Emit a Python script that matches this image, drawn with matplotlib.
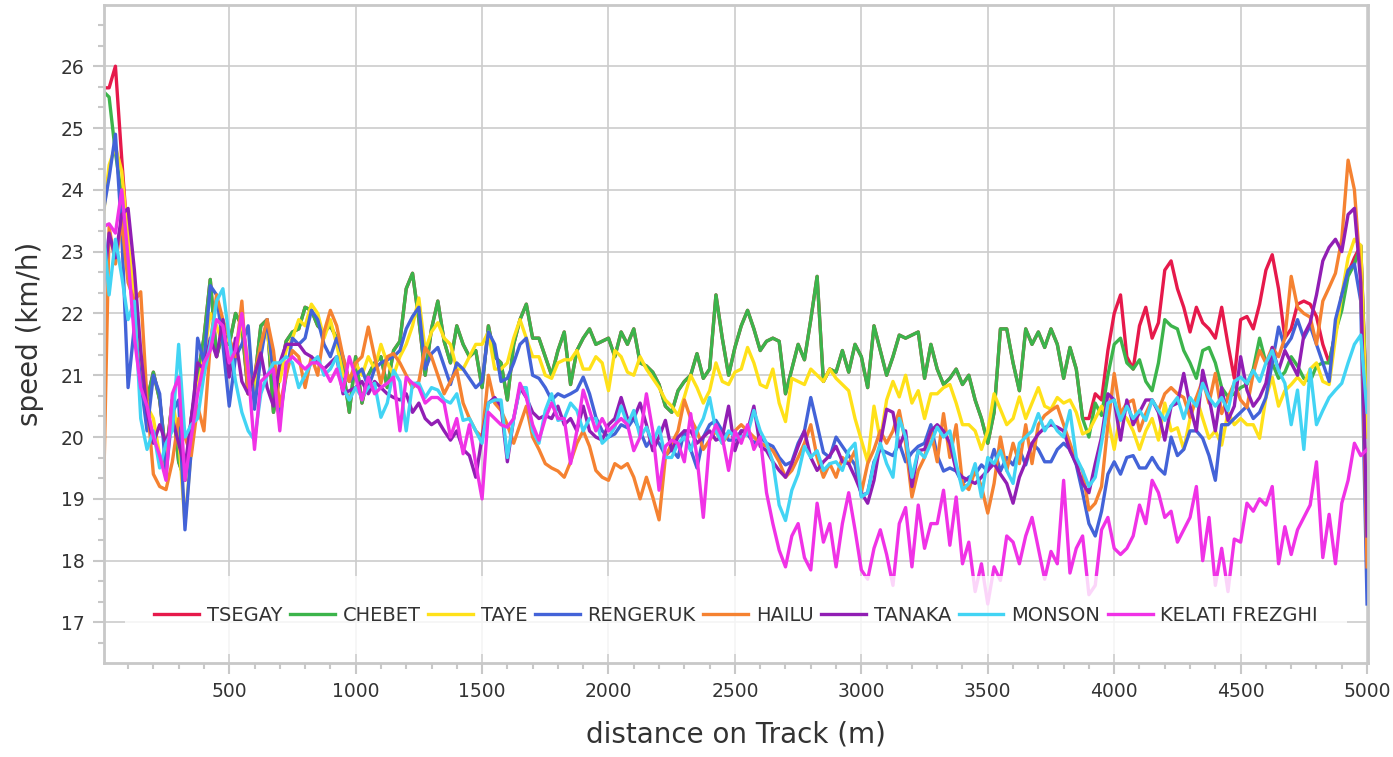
import numpy as np
import matplotlib
matplotlib.use("Agg")
import matplotlib.pyplot as plt
from matplotlib.ticker import MultipleLocator

# distance on track, one reading every 25 m
distance = list(range(0, 5001, 25))

# speeds in km/h (10 values = 250 m per row)
chebet = [
    25.6, 25.5, 24.6, 23.9, 22.9, 21.8, 21.2, 20.6, 21.05, 20.6,
    19.7, 20.6, 19.6, 19.3, 20.3, 21.0, 21.6, 22.55, 21.3, 21.7,
    21.5, 22.0, 21.8, 20.7, 20.9, 21.8, 21.9, 20.4, 21.0, 21.55,
    21.7, 21.75, 22.1, 22.05, 21.8, 21.7, 21.8, 21.6, 21.1, 20.4,
    21.3, 20.55, 21.0, 21.2, 21.3, 20.8, 21.4, 21.55, 22.4, 22.65,
    21.9, 21.0, 21.75, 22.2, 21.55, 21.2, 21.8, 21.5, 21.3, 21.4,
    20.8, 21.8, 21.3, 21.2, 20.6, 21.5, 21.9, 22.15, 21.6, 21.6,
    21.3, 21.0, 21.4, 21.7, 20.85, 21.4, 21.6, 21.75, 21.5, 21.55,
    21.6, 21.3, 21.7, 21.5, 21.75, 21.2, 21.15, 21.05, 20.85, 20.5,
    20.4, 20.75, 20.9, 21.0, 21.35, 20.95, 21.1, 22.3, 21.6, 21.0,
    21.45, 21.8, 22.05, 21.75, 21.4, 21.55, 21.6, 21.55, 20.7, 21.1,
    21.5, 21.25, 21.9, 22.6, 20.9, 21.1, 21.05, 21.4, 21.05, 21.5,
    21.3, 20.8, 21.8, 21.4, 21.0, 21.3, 21.65, 21.6, 21.65, 21.7,
    20.95, 21.5, 21.1, 20.85, 20.95, 21.1, 20.85, 21.0, 20.6, 20.3,
    19.9, 20.4, 21.75, 21.75, 21.2, 20.75, 21.75, 21.5, 21.7, 21.45,
    21.75, 21.5, 20.95, 21.45, 21.1, 20.3, 20.0, 20.55, 20.35, 21.0,
    21.5, 21.6, 21.2, 21.1, 21.25, 20.9, 20.75, 21.2, 21.9, 21.8,
    21.75, 21.4, 21.2, 20.95, 21.4, 21.45, 21.2, 20.8, 20.65, 20.7,
    20.8, 20.85, 21.1, 21.6, 21.2, 21.2, 20.95, 21.05, 21.3, 21.15,
    20.95, 20.9, 21.15, 21.2, 21.2, 21.7, 22.05, 22.6, 22.8, 23.1,
    20.2,
]

# TSEGAY runs right under CHEBET from 125 m to 3875 m
tsegay = [25.65, 25.65, 26.0, 24.5, 23.1] + chebet[5:156] + [
    20.3, 20.7, 20.6, 21.4,
    22.0, 22.3, 21.3, 21.1, 21.8, 22.1, 21.6, 21.85, 22.7, 22.85,
    22.4, 22.1, 21.7, 22.1, 21.85, 21.75, 21.6, 22.1, 21.5, 20.95,
    21.9, 21.95, 21.75, 22.15, 22.7, 22.95, 22.4, 21.6, 21.75, 22.15,
    22.2, 22.15, 21.95, 21.5, 21.2, 21.7, 22.3, 22.65, 22.9, 23.1,
    20.3,
]

taye = [
    23.5, 24.4, 24.7, 24.3, 23.2, 22.2, 21.3, 20.5, 20.3, 19.7,
    19.5, 20.6, 20.0, 18.6, 19.8, 20.8, 21.3, 22.0, 21.8, 21.5,
    21.6, 21.3, 21.9, 21.2, 20.7, 21.5, 21.7, 21.0, 20.9, 21.4,
    21.6, 21.9, 21.8, 22.15, 22.0, 21.6, 21.9, 21.5, 21.0, 20.9,
    21.2, 21.0, 21.3, 21.1, 21.5, 21.2, 21.0, 21.3, 21.5, 21.8,
    22.25, 21.4, 21.7, 21.85, 21.6, 21.5, 21.1, 21.1, 21.3, 21.5,
    21.5, 21.7, 21.1, 21.1, 21.2, 21.6, 21.9, 21.6, 21.3, 21.3,
    21.0, 20.95, 21.2, 21.25, 21.25, 21.4, 21.1, 21.1, 21.3, 21.2,
    20.75, 21.4, 21.3, 21.05, 21.0, 21.3, 21.1, 20.95, 20.8, 20.6,
    20.5, 20.35, 20.65, 21.0, 20.8, 20.55, 20.75, 21.2, 20.9, 20.85,
    21.05, 21.1, 21.45, 21.2, 20.85, 20.8, 21.1, 20.55, 20.25, 20.95,
    20.9, 20.85, 21.1, 21.0, 20.9, 21.1, 20.95, 20.85, 20.75, 20.3,
    19.95, 19.6, 20.5, 19.95, 20.6, 20.9, 20.65, 21.0, 20.55, 20.75,
    20.3, 20.7, 20.7, 20.8, 20.85, 20.55, 20.2, 20.2, 20.1, 19.8,
    20.1, 20.7, 20.45, 20.2, 20.3, 20.65, 20.3, 20.55, 20.8, 20.5,
    20.45, 20.64, 20.55, 20.6, 20.4, 20.05, 20.1, 20.3, 20.5, 20.3,
    19.8, 20.4, 20.3, 20.1, 19.8, 20.1, 20.3, 19.95, 20.55, 20.1,
    20.15, 19.8, 20.3, 20.64, 20.3, 19.98, 20.1, 19.87, 20.4, 20.2,
    20.3, 20.2, 20.2, 19.98, 20.64, 20.97, 20.5, 20.75, 20.85, 20.97,
    20.85, 21.1, 21.2, 20.9, 20.85, 21.6, 22.3, 22.9, 23.2, 23.1,
    20.0,
]

rengeruk = [
    23.6, 24.2, 24.9, 23.3, 20.8, 21.8, 20.9, 20.1, 21.0, 20.7,
    19.4, 20.4, 20.6, 18.5, 19.8, 21.6, 21.2, 22.45, 22.3, 21.5,
    20.5, 21.3, 21.5, 21.8, 20.45, 21.3, 21.9, 21.0, 20.3, 21.0,
    21.6, 21.5, 21.6, 22.05, 21.9, 21.5, 21.3, 21.6, 21.3, 20.9,
    21.0, 21.1, 20.8, 21.1, 21.2, 21.25, 21.3, 21.4, 21.75, 21.95,
    22.1, 21.1, 21.35, 21.45, 21.15, 20.85, 21.2, 21.1, 20.95, 20.8,
    20.9, 21.7, 21.5, 20.9, 20.95, 21.2, 21.5, 21.6, 21.0, 20.95,
    20.8, 20.6, 20.7, 20.65, 20.7, 20.76, 20.97, 20.7, 20.32, 20.1,
    20.0, 20.05, 20.2, 20.15, 20.3, 20.1, 19.85, 20.0, 19.9, 19.7,
    19.8, 19.67, 20.1, 19.8, 19.5, 20.0, 20.2, 20.27, 20.1, 19.95,
    19.95, 20.1, 20.05, 19.9, 20.0, 19.9, 19.85, 19.67, 19.55, 19.6,
    19.9, 20.1, 20.64, 20.2, 19.75, 19.67, 20.0, 19.85, 19.7, 19.55,
    19.05, 19.1, 19.6, 19.8, 19.75, 19.7, 19.9, 19.6, 19.75, 19.85,
    19.9, 20.2, 19.7, 19.45, 19.5, 19.45, 19.25, 19.35, 19.4, 19.55,
    19.45, 19.8, 19.45, 19.67, 19.55, 19.8, 19.55, 19.9, 19.8, 19.6,
    19.6, 19.8, 19.9, 19.8, 19.55, 19.1, 18.6, 18.4, 18.8, 19.4,
    19.6, 19.4, 19.67, 19.7, 19.5, 19.5, 19.67, 19.5, 19.4, 20.0,
    19.7, 19.8, 20.1, 20.1, 19.98, 19.7, 19.3, 20.2, 20.2, 20.3,
    20.4, 20.5, 20.3, 20.4, 20.64, 21.2, 21.78, 21.45, 21.6, 21.9,
    21.6, 21.8, 21.5, 21.2, 20.9, 21.9, 22.3, 22.7, 22.8, 22.2,
    17.3,
]

hailu = [
    18.5, 23.4, 22.8, 23.5, 22.5, 22.2, 22.35, 20.6, 19.4, 19.2,
    19.15, 19.6, 20.3, 20.0, 19.7, 20.5, 20.1, 21.5, 22.3, 21.9,
    21.6, 21.3, 22.2, 20.7, 21.0, 21.5, 21.9, 21.4, 20.5, 21.0,
    21.4, 21.3, 20.8, 21.3, 21.0, 21.7, 22.05, 21.8, 21.3, 20.9,
    21.2, 21.3, 21.78, 21.3, 20.87, 21.3, 21.35, 21.2, 21.0, 20.8,
    20.9, 21.45, 21.3, 21.0, 20.7, 20.9, 21.08, 20.55, 20.3, 20.1,
    20.0, 21.0, 20.55, 20.43, 20.2, 19.9, 20.2, 20.5, 20.0, 19.8,
    19.57, 19.5, 19.45, 19.35, 19.6, 19.9, 20.1, 19.85, 19.46, 19.35,
    19.3, 19.57, 19.5, 19.57, 19.35, 19.0, 19.35, 19.03, 18.66, 19.67,
    19.9, 20.1, 20.6, 20.3, 20.1, 19.8, 19.95, 20.1, 19.9, 20.05,
    20.1, 20.2, 20.1, 20.0, 19.9, 19.85, 19.78, 19.6, 19.35, 19.46,
    19.67, 19.9, 20.2, 19.67, 19.35, 19.57, 19.35, 19.67, 19.57, 19.78,
    19.1, 19.57, 19.8, 20.1, 19.9, 20.1, 20.43, 19.9, 19.03, 19.46,
    19.67, 20.1, 19.6, 20.38, 19.67, 20.2, 19.25, 19.15, 19.46, 19.2,
    18.77, 19.25, 20.0, 19.46, 19.9, 19.57, 20.2, 19.57, 20.2, 20.35,
    20.43, 20.5, 20.2, 19.9, 19.6, 19.46, 18.82, 18.93, 19.2, 20.2,
    21.03, 20.38, 20.55, 20.6, 20.1, 20.38, 20.6, 20.43, 20.7, 20.8,
    20.7, 20.64, 20.32, 20.64, 20.92, 20.55, 21.03, 20.38, 20.64, 20.87,
    20.6, 20.48, 21.03, 21.4, 21.2, 21.45, 21.3, 21.6, 22.6, 22.1,
    22.0, 21.94, 21.5, 22.2, 22.42, 22.65, 23.2, 24.48, 24.0, 22.6,
    17.9,
]

tanaka = [
    22.3, 23.3, 22.9, 23.6, 23.7, 22.7, 21.4, 20.4, 19.9, 20.2,
    19.9, 20.3, 19.9, 19.5, 20.3, 21.2, 21.1, 21.6, 21.3, 21.9,
    20.97, 21.6, 20.9, 20.7, 21.0, 21.36, 20.8, 20.5, 21.2, 21.5,
    21.5, 21.5, 21.36, 21.3, 21.2, 21.1, 21.2, 21.3, 20.7, 20.75,
    20.8, 20.9, 20.7, 20.9, 20.8, 20.7, 20.64, 20.6, 20.7, 20.4,
    20.55, 20.3, 20.2, 20.27, 20.1, 19.95, 20.1, 19.8, 19.7, 19.35,
    20.0, 20.55, 20.64, 20.5, 19.6, 20.3, 20.8, 20.64, 20.4, 20.3,
    20.35, 20.3, 20.5, 20.2, 20.3, 20.1, 20.5, 20.1, 20.0, 19.95,
    20.2, 20.3, 20.64, 20.3, 20.3, 20.55, 20.2, 19.78, 20.0, 20.27,
    19.78, 20.0, 20.1, 20.1, 19.9, 20.0, 20.1, 19.95, 20.0, 20.5,
    19.78, 20.1, 20.1, 20.5, 19.85, 19.78, 19.6, 19.46, 19.35, 19.57,
    19.85, 20.1, 19.67, 19.46, 19.6, 19.7, 19.85, 19.6, 19.57, 19.35,
    19.1, 18.93, 19.3, 19.9, 20.45, 20.4, 19.85, 20.1, 19.2, 19.78,
    19.8, 20.1, 20.2, 20.1, 19.9, 19.46, 19.35, 19.3, 19.25, 19.35,
    19.46, 19.57, 19.4, 19.25, 18.93, 19.35, 19.6, 19.9, 20.05, 20.15,
    20.2, 20.16, 20.1, 19.78, 19.57, 19.25, 19.1, 19.57, 20.0, 20.7,
    20.6, 19.95, 20.6, 20.2, 20.4, 20.6, 20.6, 20.4, 19.95, 20.5,
    20.55, 21.03, 20.5, 20.1, 21.08, 20.64, 20.1, 20.8, 20.27, 20.5,
    21.3, 20.76, 20.5, 20.64, 20.87, 21.45, 21.08, 21.4, 21.2, 21.0,
    21.65, 21.85, 22.3, 22.85, 23.07, 23.2, 23.0, 23.6, 23.7, 22.5,
    18.4,
]

monson = [
    23.5, 22.3, 23.2, 22.6, 21.9, 22.2, 20.3, 19.8, 20.1, 19.5,
    19.9, 20.1, 21.5, 20.0, 20.2, 20.3, 21.0, 21.5, 22.2, 22.4,
    21.6, 20.9, 20.4, 20.1, 19.95, 20.7, 21.0, 21.2, 21.2, 21.3,
    21.2, 20.8, 21.0, 21.2, 21.3, 21.0, 21.1, 21.3, 20.8, 20.6,
    20.8, 20.64, 20.8, 20.87, 20.32, 20.55, 21.08, 20.9, 20.1, 20.87,
    20.87, 20.64, 20.8, 20.76, 20.6, 20.55, 20.7, 20.27, 20.3, 20.1,
    19.9, 20.55, 20.6, 20.6, 19.67, 20.3, 20.8, 20.8, 20.1, 19.9,
    20.43, 20.7, 20.27, 20.3, 20.55, 20.43, 20.1, 20.3, 20.3, 19.9,
    20.0, 20.16, 20.5, 20.2, 20.43, 20.0, 20.16, 19.9, 20.16, 19.67,
    19.67, 19.9, 20.0, 19.78, 20.1, 20.3, 20.64, 20.1, 19.9, 20.1,
    20.0, 20.0, 20.05, 20.43, 20.1, 19.9, 19.6, 18.9, 18.65, 19.14,
    19.4, 19.85, 19.67, 19.78, 19.46, 19.57, 19.6, 19.46, 19.78, 19.9,
    19.03, 19.1, 19.57, 19.9, 19.57, 19.35, 20.3, 20.0, 19.35, 19.78,
    19.67, 19.9, 20.16, 20.0, 20.1, 19.57, 19.14, 19.25, 19.57, 19.03,
    19.67, 19.57, 19.78, 19.46, 19.25, 19.9, 20.0, 20.1, 20.38, 20.1,
    20.27, 20.1, 20.0, 20.43, 19.67, 19.46, 19.2, 19.35, 19.9, 20.55,
    20.6, 20.27, 20.5, 20.3, 20.43, 20.27, 20.6, 20.43, 20.27, 20.5,
    20.64, 20.3, 20.64, 20.5, 20.87, 20.64, 20.5, 20.64, 20.43, 20.9,
    20.97, 20.87, 21.08, 20.9, 21.2, 21.4, 21.08, 20.87, 20.2, 20.76,
    19.8, 21.1, 20.2, 20.43, 20.64, 20.76, 20.87, 21.2, 21.5, 21.65,
    20.4,
]

kelati = [
    23.4, 23.45, 23.3, 24.0, 22.9, 21.6, 20.8, 20.5, 20.0, 19.7,
    19.3, 20.7, 20.97, 19.3, 20.0, 20.7, 21.2, 21.4, 21.9, 21.8,
    21.2, 21.4, 22.0, 21.1, 19.8, 20.9, 21.0, 21.1, 20.1, 21.2,
    21.3, 21.2, 21.1, 21.2, 21.2, 21.1, 20.9, 21.1, 20.75, 21.3,
    20.97, 20.6, 20.97, 20.7, 20.8, 20.87, 20.97, 20.1, 20.97, 20.87,
    20.8, 20.55, 20.64, 20.64, 20.55, 20.0, 20.3, 19.73, 20.2, 19.57,
    19.0, 20.4, 20.3, 20.2, 20.16, 20.3, 20.87, 20.64, 20.2, 19.95,
    20.3, 20.55, 20.3, 20.3, 19.57, 20.1, 20.76, 20.43, 20.1, 20.3,
    20.1, 20.2, 20.3, 20.2, 19.78, 20.0, 20.7, 20.1, 19.14, 19.85,
    19.95, 19.9, 19.6, 20.38, 19.67, 18.7, 19.95, 20.2, 20.0, 19.46,
    20.1, 19.9, 20.2, 19.8, 20.0, 19.1, 18.6, 18.17, 17.9, 18.4,
    18.6, 18.05, 17.85, 18.93, 18.3, 18.6, 17.9, 18.6, 19.1, 18.5,
    17.85, 17.7, 18.2, 18.5, 18.1, 17.6, 18.6, 18.86, 17.9, 18.9,
    18.2, 18.6, 18.6, 19.14, 18.25, 19.03, 17.95, 18.3, 17.5, 17.95,
    17.3, 17.9, 17.68, 18.4, 18.3, 17.95, 18.4, 18.7, 18.2, 17.7,
    18.15, 17.95, 19.3, 17.8, 18.2, 18.4, 17.45, 17.6, 18.5, 18.7,
    18.2, 18.1, 18.2, 18.4, 18.9, 18.6, 19.3, 19.1, 18.7, 18.8,
    18.3, 18.5, 18.7, 19.2, 18.0, 18.7, 17.6, 18.2, 17.5, 18.35,
    18.3, 18.93, 18.8, 19.0, 18.9, 19.2, 17.95, 18.55, 18.1, 18.5,
    18.7, 18.9, 19.6, 18.05, 18.75, 17.95, 18.93, 19.3, 19.9, 19.7,
    19.8,
]

runners = ['TSEGAY', 'CHEBET', 'TAYE', 'RENGERUK', 'HAILU', 'TANAKA', 'MONSON', 'KELATI FREZGHI']
speeds = [tsegay, chebet, taye, rengeruk, hailu, tanaka, monson, kelati]
colors = ['#e6194b', '#3cb44b', '#ffe119', '#4363d8', '#f58231', '#911eb4', '#42d4f4', '#f032e6']

plt.rcParams['font.family'] = 'DejaVu Sans'
grey = '#c8c8c8'

fig = plt.figure(figsize=(13.93, 7.57), dpi=100)
ax = fig.add_axes([0.0747, 0.1246, 0.9074, 0.8688])

# one line per runner, first runner at the bottom
for name, v, c in zip(runners, speeds, colors):
    ax.plot(distance, v, color=c, lw=2.4, label=name)

ax.set_xlim(5, 5004)
ax.set_ylim(16.35, 26.99)

ax.xaxis.set_major_locator(MultipleLocator(500))
ax.xaxis.set_minor_locator(MultipleLocator(100))
ax.yaxis.set_major_locator(MultipleLocator(1))
ax.yaxis.set_minor_locator(MultipleLocator(1 / 3))

ax.grid(True, which='major', color='#cccccc', lw=1.2)
ax.set_axisbelow(True)
for s in ax.spines.values():
    s.set_color(grey)
    s.set_linewidth(2)

ax.tick_params(which='major', length=8, width=1.5, color=grey, labelsize=13.5,
               labelcolor='#333333', pad=6)
ax.tick_params(which='minor', length=4, width=1.5, color=grey)

ax.set_xlabel('distance on Track (m)', fontsize=20, color='#333333', labelpad=14)
ax.set_ylabel('speed (km/h)', fontsize=20, color='#333333', labelpad=12)

# legend sits inside the plot on a half see-through white band
leg = ax.legend(loc='lower left', bbox_to_anchor=(0.0166, 0.0137, 0.9668, 0.12),
                mode='expand', ncol=8, fontsize=14, frameon=True, fancybox=False,
                framealpha=0.8, facecolor='white', edgecolor='none',
                borderpad=1.5, handlelength=2.3, handletextpad=0.4, borderaxespad=0)
for line in leg.get_lines():
    line.set_linewidth(2.4)
for t in leg.get_texts():
    t.set_color('#333333')

fig.savefig('out.png', dpi=100)
